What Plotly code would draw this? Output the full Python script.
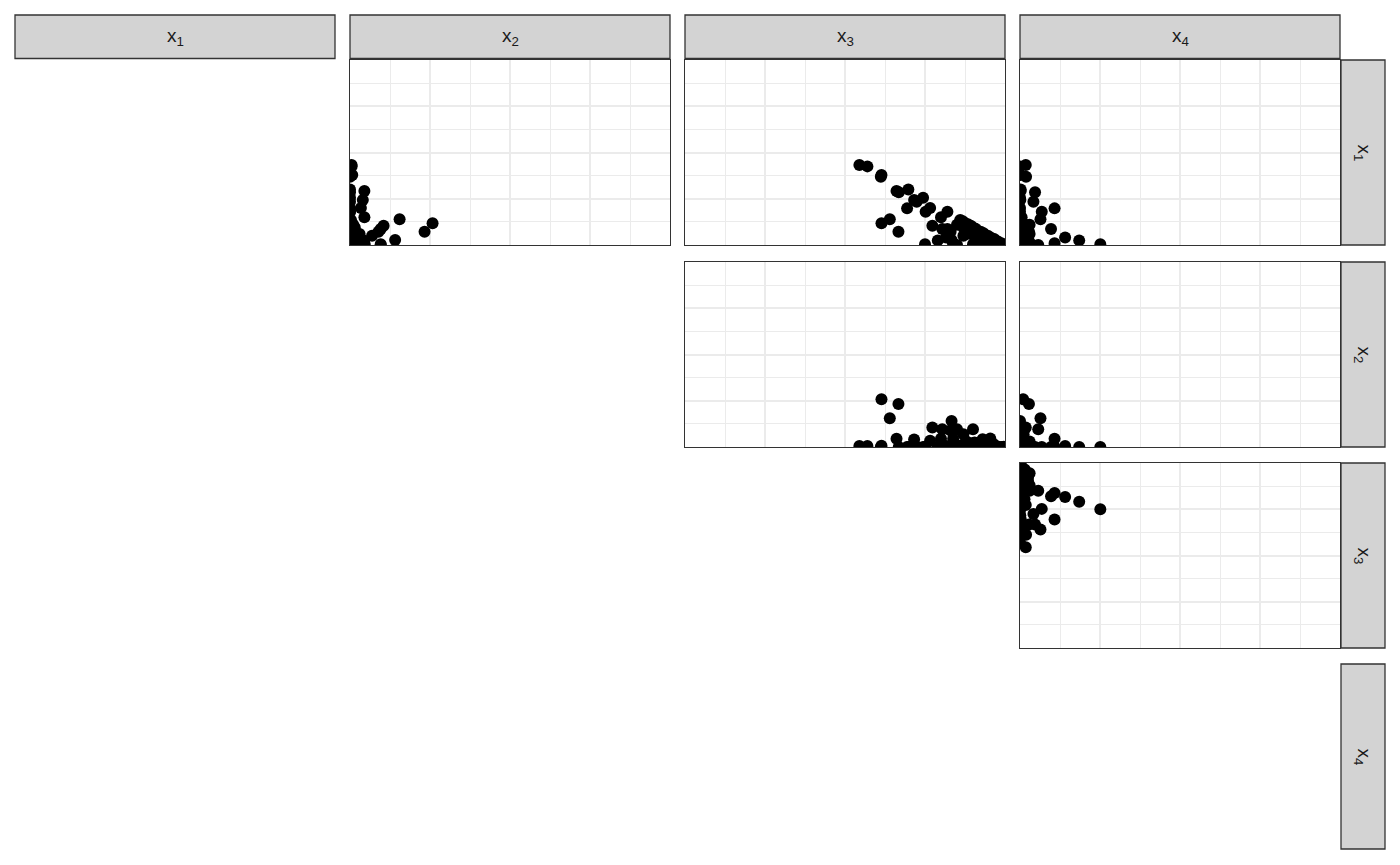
import plotly.graph_objects as go

# ---- data (compositional samples: x1 + x2 + x3 + x4 ~ 1) ----
x1 = [0.432, 0.425, 0.378, 0.369, 0.292, 0.285, 0.300, 0.256, 0.243, 0.234,
      0.198, 0.180, 0.200, 0.180, 0.150, 0.117, 0.072, 0.139, 0.027, 0.104,
      0.086, 0.086, 0.009, 0.004, 0.025, 0.040, 0.000, 0.072, 0.050, 0.004,
      0.025, 0.000,
      0.135, 0.128, 0.120, 0.112, 0.104, 0.095, 0.088, 0.080, 0.072, 0.064,
      0.056, 0.048, 0.040, 0.032, 0.024, 0.016, 0.008, 0.002,
      0.110, 0.095, 0.080, 0.065, 0.050, 0.035, 0.020, 0.060, 0.045,
      0.030, 0.015, 0.010, 0.005]
x2 = [0.005, 0.005, 0.007, 0.000, 0.045, 0.000, 0.000, 0.000, 0.040, 0.000,
      0.000, 0.000, 0.034, 0.000, 0.045, 0.258, 0.233, 0.155, 0.141, 0.105,
      0.096, 0.000, 0.045, 0.000, 0.000, 0.005, 0.096, 0.089, 0.069, 0.096,
      0.042, 0.046,
      0.003, 0.000, 0.005, 0.002, 0.000, 0.004, 0.001, 0.006, 0.002, 0.000,
      0.004, 0.001, 0.003, 0.000, 0.002, 0.001, 0.000, 0.001,
      0.010, 0.015, 0.012, 0.020, 0.010, 0.015, 0.012, 0.030, 0.025,
      0.020, 0.010, 0.025, 0.015]
x3 = [0.545, 0.570, 0.614, 0.612, 0.661, 0.668, 0.698, 0.744, 0.716, 0.724,
      0.694, 0.752, 0.766, 0.820, 0.800, 0.614, 0.667, 0.640, 0.833, 0.773,
      0.804, 0.820, 0.838, 0.750, 0.790, 0.816, 0.850, 0.830, 0.870, 0.900,
      0.930, 0.954,
      0.860, 0.868, 0.873, 0.884, 0.893, 0.900, 0.908, 0.912, 0.924, 0.933,
      0.938, 0.948, 0.955, 0.966, 0.972, 0.980, 0.990, 0.996,
      0.850, 0.870, 0.885, 0.900, 0.920, 0.935, 0.955, 0.880, 0.905,
      0.925, 0.945, 0.940, 0.965]
x4 = [0.018, 0.000, 0.001, 0.019, 0.002, 0.047, 0.002, 0.000, 0.001, 0.042,
      0.108, 0.068, 0.000, 0.000, 0.005, 0.010, 0.028, 0.064, 0.000, 0.018,
      0.014, 0.097, 0.108, 0.251, 0.185, 0.141, 0.057, 0.010, 0.011, 0.000,
      0.003, 0.000,
      0.002, 0.004, 0.002, 0.002, 0.003, 0.001, 0.003, 0.002, 0.002, 0.003,
      0.002, 0.003, 0.002, 0.002, 0.002, 0.003, 0.002, 0.001,
      0.030, 0.020, 0.023, 0.015, 0.020, 0.015, 0.013, 0.030, 0.025,
      0.025, 0.030, 0.025, 0.015]

var_names = ["x1", "x2", "x3", "x4"]
var_labels = ["x<sub>1</sub>", "x<sub>2</sub>", "x<sub>3</sub>", "x<sub>4</sub>"]
data = {"x1": x1, "x2": x2, "x3": x3, "x4": x4}

major_ticks = [0.25, 0.5, 0.75]
minor_ticks = [0.125, 0.375, 0.625, 0.875]

# page has an 8px body margin, so the figure is placed at (8, 8)
OFF = 8
W, H = 1384, 849
col_px = [(15, 335), (350, 670), (685, 1005), (1020, 1340)]
row_px = [(60, 245), (262, 447), (463, 648), (664, 849)]
top_strip = (15, 58.5)
right_strip = (1341, 1385)

def px_x(p):
    return (p - OFF) / W

def px_y(p):
    return 1 - (p - OFF) / H

fig = go.Figure()
layout_axes = {}
k = 0
for r in range(4):
    for c in range(4):
        if c <= r:
            continue
        k += 1
        xa = "x" if k == 1 else f"x{k}"
        ya = "y" if k == 1 else f"y{k}"
        fig.add_trace(go.Scatter(
            x=data[var_names[c]], y=data[var_names[r]],
            mode="markers", xaxis=xa, yaxis=ya,
            marker=dict(color="black", size=12, line=dict(width=0)),
            showlegend=False, hoverinfo="skip"))
        ax_common = dict(range=[0, 1], showticklabels=False, ticks="",
                         tickvals=major_ticks, showgrid=True,
                         gridcolor="#EBEBEB", gridwidth=2.2,
                         minor=dict(tickvals=minor_ticks, showgrid=True,
                                    gridcolor="#EBEBEB", gridwidth=1.1, ticks=""),
                         zeroline=False, showline=True, mirror=True,
                         linecolor="#333333", linewidth=1.3, fixedrange=True)
        xkey = "xaxis" if k == 1 else f"xaxis{k}"
        ykey = "yaxis" if k == 1 else f"yaxis{k}"
        layout_axes[xkey] = dict(ax_common,
                                 domain=[px_x(col_px[c][0]), px_x(col_px[c][1])],
                                 anchor=ya)
        layout_axes[ykey] = dict(ax_common,
                                 domain=[px_y(row_px[r][1]), px_y(row_px[r][0])],
                                 anchor=xa)

shapes = []
annotations = []
strip_fill = "#D3D3D3"
strip_line = dict(color="#333333", width=1.3)
label_font = dict(size=19, color="#1A1A1A", family="Liberation Sans, Arial, sans-serif")
for c in range(4):
    x0, x1p = col_px[c]
    shapes.append(dict(type="rect", xref="paper", yref="paper",
                       x0=px_x(x0), x1=px_x(x1p),
                       y0=px_y(top_strip[1]), y1=px_y(top_strip[0]),
                       fillcolor=strip_fill, line=strip_line, layer="above"))
    annotations.append(dict(text=var_labels[c], xref="paper", yref="paper",
                            x=px_x((x0 + x1p) / 2), y=px_y((top_strip[0] + top_strip[1]) / 2),
                            showarrow=False, xanchor="center", yanchor="middle",
                            font=label_font))
for r in range(4):
    y0, y1p = row_px[r]
    shapes.append(dict(type="rect", xref="paper", yref="paper",
                       x0=px_x(right_strip[0]), x1=px_x(right_strip[1]),
                       y0=px_y(y1p), y1=px_y(y0),
                       fillcolor=strip_fill, line=strip_line, layer="above"))
    annotations.append(dict(text=var_labels[r], xref="paper", yref="paper",
                            x=px_x((right_strip[0] + right_strip[1]) / 2),
                            y=px_y((y0 + y1p) / 2), textangle=90,
                            showarrow=False, xanchor="center", yanchor="middle",
                            font=label_font))

fig.update_layout(width=W, height=H, margin=dict(l=0, r=0, t=0, b=0),
                  paper_bgcolor="white", plot_bgcolor="white",
                  shapes=shapes, annotations=annotations, **layout_axes)

fig.write_html("out.html")
